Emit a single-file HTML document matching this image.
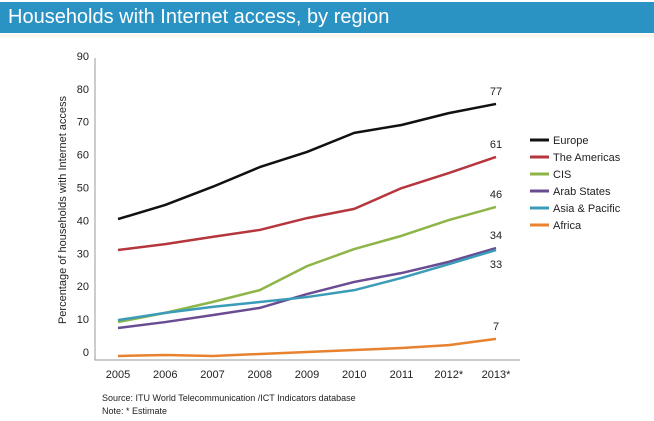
<!DOCTYPE html>
<html><head><meta charset="utf-8"><style>
body{margin:0;width:654px;height:421px;background:#fff;overflow:hidden;font-family:"Liberation Sans",sans-serif}
#bar{position:absolute;left:0;top:2px;width:654px;height:31px;background:#2a93c4;color:#fff;font-size:20px;line-height:31px;padding-left:8px;box-sizing:border-box}
#bar2{position:absolute;left:0;top:34px;width:654px;height:3px;background:#fdf6ee}
</style></head><body>
<div id="bar">Households with Internet access, by region</div>
<div id="bar2"></div>
<svg id="c" width="654" height="421" style="position:absolute;left:0;top:0"></svg>
<script>
const years=["2005","2006","2007","2008","2009","2010","2011","2012*","2013*"];
const yTicks=[0,10,20,30,40,50,60,70,80,90];
const seriesNames=["Europe","The Americas","CIS","Arab States","Asia & Pacific","Africa"];
const seriesColors=["#111111","#b5373d","#8db548","#6a4c93","#3a9cb8","#e8822e"];
const europe=[40.4,44.7,50.2,56.2,60.8,66.6,69,72.6,75.4];
const americas=[31,32.8,35,37.1,40.7,43.5,49.8,54.4,59.3];
const cis=[9.1,11.9,15.2,18.8,26.1,31.3,35.3,40.1,44.1];
const arab=[7.3,9.1,11.2,13.4,17.6,21.3,24,27.4,31.6];
const asia=[9.7,11.9,13.7,15.2,16.7,18.8,22.5,26.7,31];
const africa=[-1.2,-0.9,-1.2,-0.6,0,0.6,1.2,2.1,4];
const endLabels=["77","61","46","34","33","7"];
const series=[europe,americas,cis,arab,asia,africa];
const svg=document.getElementById('c');const NS="http://www.w3.org/2000/svg";
function X(i){return 118+i*47.25}
function Y(v){return 352-v*3.29}
function mk(t,a,p){const e=document.createElementNS(NS,t);for(const k in a)e.setAttribute(k,a[k]);(p||svg).appendChild(e);return e}
let ax=mk('path',{d:'M95,58 V360 H520',stroke:'#999',fill:'none','stroke-width':1});


yTicks.forEach(v=>{const t=mk('text',{x:89,y:Y(v)+4,'text-anchor':'end','font-size':11,fill:'#222'});t.textContent=v;

});
years.forEach((y,i)=>{const t=mk('text',{x:X(i),y:378,'text-anchor':'middle','font-size':11,fill:'#222'});t.textContent=y;

});
const yt=mk('text',{transform:'translate(66,210) rotate(-90)','text-anchor':'middle','font-size':11,fill:'#222'});yt.textContent='Percentage of households with Internet access';


series.forEach((s,k)=>{
 const p=mk('polyline',{points:s.map((v,i)=>X(i)+','+Y(v)).join(' '),fill:'none',stroke:seriesColors[k],'stroke-width':2.5,'stroke-linejoin':'round'});
 
 
 const last=s[s.length-1];const dy=(k==4)?18:-9;
 const t=mk('text',{x:X(8),y:Y(last)+dy,'text-anchor':'middle','font-size':11,fill:'#222'});t.textContent=endLabels[k];
 
 
 const ly=140+k*17;
 const l=mk('line',{x1:530,x2:549,y1:ly,y2:ly,stroke:seriesColors[k],'stroke-width':3});
 
 
 const lt=mk('text',{x:553,y:ly+4,'font-size':11,fill:'#222'});lt.textContent=seriesNames[k];
 
 
});
const s1=mk('text',{x:102,y:401,'font-size':9,fill:'#222','font-family':'Liberation Sans Narrow, Liberation Sans, sans-serif'});s1.textContent='Source:  ITU World Telecommunication /ICT Indicators database';


const s2=mk('text',{x:102,y:414,'font-size':9,fill:'#222','font-family':'Liberation Sans Narrow, Liberation Sans, sans-serif'});s2.textContent='Note: * Estimate';


</script>
</body></html>
